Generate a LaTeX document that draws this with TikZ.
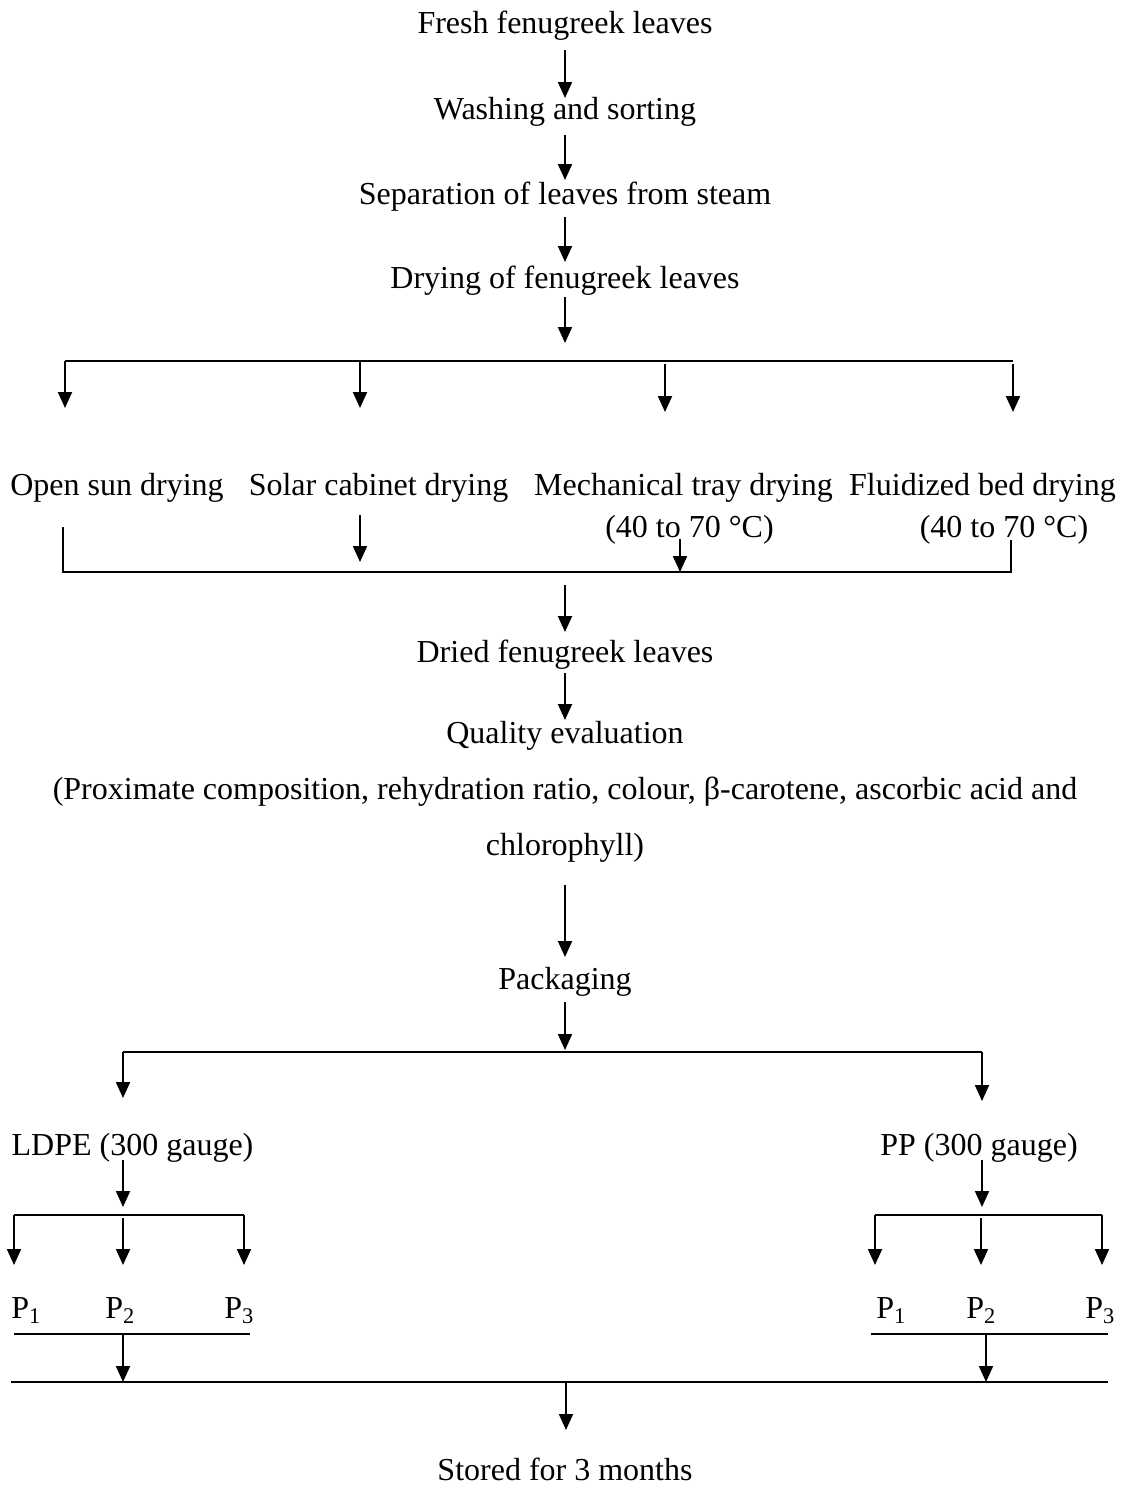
\documentclass[tikz,border=0pt]{standalone}
\usepackage{fontspec}
\setmainfont{Liberation Serif}
\usetikzlibrary{arrows.meta,calc}
\begin{document}
\begin{tikzpicture}[x=0.5pt,y=-0.5pt,
  lbl/.style={inner sep=0pt,anchor=base,font=\fontsize{16}{19}\selectfont},
  lblw/.style={lbl,anchor=base west},
  ln/.style={line width=0.75pt},
  arr/.style={line width=1pt,-{Triangle[length=8pt,width=7pt]}}]
\useasboundingbox (0,0) rectangle (1125,1488);
% main chain texts
\node[lbl] (fresh) at (565,33) {Fresh fenugreek leaves};
\node[lbl] (wash) at (565,119) {Washing and sorting};
\node[lbl] (sep) at (565,204) {Separation of leaves from steam};
\node[lbl] (dry) at (565,288) {Drying of fenugreek leaves};
\draw[arr] ($(fresh.base)+(0,17)$) -- ($(wash.base)+(0,-21)$);
\draw[arr] ($(wash.base)+(0,16)$) -- ($(sep.base)+(0,-24)$);
\draw[arr] ($(sep.base)+(0,13)$) -- ($(dry.base)+(0,-26)$);
\coordinate (dryend) at (565,343);
\draw[arr] ($(dry.base)+(0,9)$) -- (dryend);
% split into four methods
\coordinate (sL) at (65,361);
\coordinate (sR) at (1013,361);
\draw[ln] (sL) -- (sR);
\node[lbl] (m1) at (117,495) {Open sun drying};
\node[lbl] (m2) at (378.5,495) {Solar cabinet drying};
\node[lbl] (m3) at (683.5,495) {Mechanical tray drying};
\node[lbl] (m4) at (982.5,495) {Fluidized bed drying};
\node[lbl] (t3) at (689.5,537) {(40 to 70 °C)};
\node[lbl] (t4) at (1004,537) {(40 to 70 °C)};
\coordinate (a1e) at (65,408);
\coordinate (a2s) at (360,361);
\coordinate (a2e) at (360,408);
\coordinate (a3s) at (665,364);
\coordinate (a3e) at (665,412);
\coordinate (a4s) at (1013,364);
\coordinate (a4e) at (1013,412);
\draw[arr] (sL) -- (a1e);
\draw[arr] (a2s) -- (a2e);
\draw[arr] (a3s) -- (a3e);
\draw[arr] (a4s) -- (a4e);
% merge
\coordinate (g1) at (63,527);
\coordinate (gL) at (63,572);
\coordinate (gR) at (1011,572);
\coordinate (g4) at (1011,540);
\draw[ln] (g1) -- (gL) -- (gR) -- (g4);
\coordinate (b2s) at (360,515);
\coordinate (b2e) at (360,562);
\draw[arr] (b2s) -- (b2e);
\coordinate (b3s) at (680,539);
\coordinate (b3e) at (680,572);
\draw[arr] (b3s) -- (b3e);
% dried etc.
\node[lbl] (dried) at (565,662) {Dried fenugreek leaves};
\node[lbl] (qual) at (565,743) {Quality evaluation};
\node[lbl] (prox) at (565,799) {(Proximate composition, rehydration ratio, colour, β-carotene, ascorbic acid and};
\node[lbl] (chl) at (565,855) {chlorophyll)};
\node[lbl] (pack) at (565,989) {Packaging};
\coordinate (c1s) at (565,585);
\draw[arr] (c1s) -- ($(dried.base)+(0,-30)$);
\draw[arr] ($(dried.base)+(0,11)$) -- ($(qual.base)+(0,-23)$);
\draw[arr] ($(chl.base)+(0,30)$) -- ($(pack.base)+(0,-32)$);
\coordinate (pkend) at (565,1050);
\draw[arr] ($(pack.base)+(0,13)$) -- (pkend);
% packaging split
\coordinate (pL) at (123,1052);
\coordinate (pR) at (982,1052);
\draw[ln] (pL) -- (pR);
\node[lbl] (ldpe) at (132.5,1155) {LDPE (300 gauge)};
\node[lbl] (pp) at (979,1155) {PP (300 gauge)};
\coordinate (pLe) at (123,1098);
\coordinate (pRe) at (982,1101);
\draw[arr] (pL) -- (pLe);
\draw[arr] (pR) -- (pRe);
\coordinate (l0s) at (123,1160);
\coordinate (l0e) at (123,1207);
\coordinate (r0s) at (982,1160);
\coordinate (r0e) at (982,1207);
\draw[arr] (l0s) -- (l0e);
\draw[arr] (r0s) -- (r0e);
% sub splits
\coordinate (lsL) at (14,1215);
\coordinate (lsR) at (244,1215);
\coordinate (rsL) at (875,1215);
\coordinate (rsR) at (1102,1215);
\draw[ln] (lsL) -- (lsR);
\draw[ln] (rsL) -- (rsR);
\node[lblw] (lp1) at (11,1318) {P\textsubscript{1}};
\node[lblw] (lp2) at (105,1318) {P\textsubscript{2}};
\node[lblw] (lp3) at (224,1318) {P\textsubscript{3}};
\node[lblw] (rp1) at (876,1318) {P\textsubscript{1}};
\node[lblw] (rp2) at (966,1318) {P\textsubscript{2}};
\node[lblw] (rp3) at (1085,1318) {P\textsubscript{3}};
\coordinate (lm) at (123,1218);
\coordinate (rm) at (981,1218);
\draw[arr] (lsL) -- (14,1265);
\draw[arr] (lm) -- (123,1265);
\draw[arr] (lsR) -- (244,1265);
\draw[arr] (rsL) -- (875,1265);
\draw[arr] (rm) -- (981,1265);
\draw[arr] (rsR) -- (1102,1265);
% merge P
\coordinate (lbL) at (14,1334);
\coordinate (lbR) at (250,1334);
\coordinate (rbL) at (871,1334);
\coordinate (rbR) at (1108,1334);
\draw[ln] (lbL) -- (lbR);
\draw[ln] (rbL) -- (rbR);
\coordinate (lbm) at (123,1334);
\coordinate (rbm) at (986,1334);
\coordinate (fL) at (11,1382);
\coordinate (fR) at (1108,1382);
\draw[arr] (lbm) -- (lbm |- fL);
\draw[arr] (rbm) -- (rbm |- fL);
\draw[ln] (fL) -- (fR);
\node[lbl] (store) at (565,1480) {Stored for 3 months};
\coordinate (fm) at (566,1382);
\draw[arr] (fm) -- (566,1430);
\end{tikzpicture}
\end{document}
